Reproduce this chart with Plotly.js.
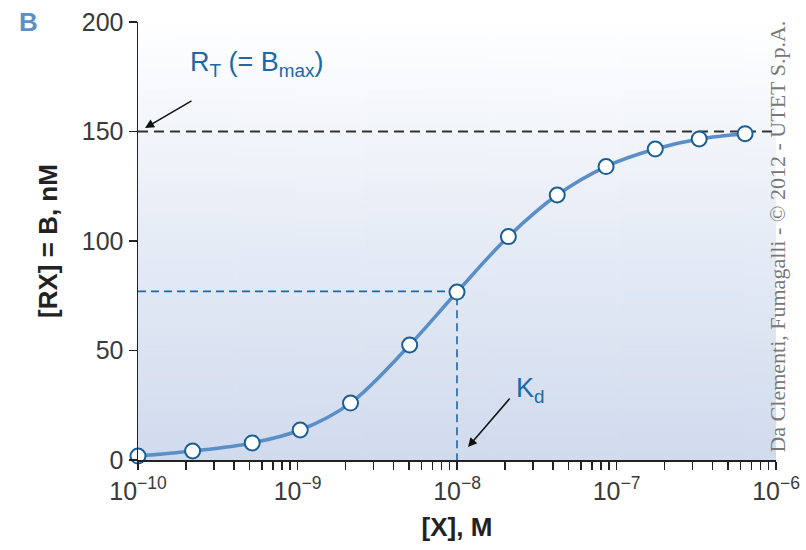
<!DOCTYPE html>
<html>
<head>
<meta charset="utf-8">
<script src="https://cdn.plot.ly/plotly-3.0.1.min.js"></script>
<style>html,body{margin:0;padding:0;background:#fff;}#chart{width:806px;height:550px;}</style>
</head>
<body>
<div id="chart"></div>
<script>
// Data
const xConc = [1e-10, 2.2e-10, 5.2e-10, 1.04e-9, 2.15e-9, 5.05e-9, 1e-8, 2.1e-8, 4.25e-8, 8.6e-8, 1.75e-7, 3.3e-7, 6.4e-7];
const bound = [1.8, 4.1, 7.8, 13.7, 26, 52.5, 76.7, 102, 121, 134, 142, 146.6, 149];
const Bmax = 150;
const Kd = 1e-8;
const halfB = 77;
const xTickVals = [1e-10, 1e-9, 1e-8, 1e-7, 1e-6];
const xTickText = ['10<sup>\u221210</sup>', '10<sup>\u22129</sup>', '10<sup>\u22128</sup>', '10<sup>\u22127</sup>', '10<sup>\u22126</sup>'];
const yTickVals = [0, 50, 100, 150, 200];

// minor tick positions (2..9 per decade)
const minorVals = [];
for (let e = -10; e < -6; e++) for (let m = 2; m <= 9; m++) minorVals.push(m * Math.pow(10, e));

// gradient background image
const cv = document.createElement('canvas');
cv.width = 10; cv.height = 200;
const cx = cv.getContext('2d');
const g = cx.createLinearGradient(0, 0, 0, 200);
g.addColorStop(0, '#ffffff');
g.addColorStop(0.5, '#e6ecf6');
g.addColorStop(1, '#d1dbee');
cx.fillStyle = g; cx.fillRect(0, 0, 10, 200);
const bgURL = cv.toDataURL();

const blue = '#1c68a8';
const sans = 'Liberation Sans, Arial, sans-serif';
const traces = [
  {x: [xTickVals[0], xTickVals[4]], y: [Bmax, Bmax], mode: 'lines', line: {color: '#333', width: 2, dash: '10px,6px'}, hoverinfo: 'skip', cliponaxis: false},
  {x: [xTickVals[0], Kd, Kd], y: [halfB, halfB, 0], mode: 'lines', line: {color: blue, width: 1.6, dash: '8px,5px'}, hoverinfo: 'skip'},
  {x: xConc, y: bound, mode: 'lines+markers', line: {color: '#5a8ec6', width: 3.5, shape: 'spline', smoothing: 1},
   marker: {size: 15, color: '#ffffff', line: {color: '#1a5e96', width: 2}}, cliponaxis: false}
];

const fontTick = {family: sans, size: 25, color: '#3a3a3a'};
const layout = {
  width: 806, height: 550,
  margin: {l: 138, r: 30, t: 22, b: 90},
  paper_bgcolor: '#ffffff', plot_bgcolor: 'rgba(0,0,0,0)',
  showlegend: false,
  images: [{source: bgURL, xref: 'paper', yref: 'paper', x: 0, y: 1, sizex: 1, sizey: 1, sizing: 'stretch', layer: 'below', xanchor: 'left', yanchor: 'top'}],
  xaxis: {
    type: 'log', range: [-10, -6], tickvals: xTickVals, ticktext: xTickText,
    ticks: 'outside', ticklen: 8, tickwidth: 1.5, tickcolor: '#222',
    showline: true, linecolor: '#222', linewidth: 1.5, showgrid: false, zeroline: false,
    tickfont: fontTick,
    minor: {tickvals: minorVals, ticks: 'outside', ticklen: 8, tickwidth: 1.5, tickcolor: '#222', showgrid: false},
    title: {text: '[X], M', font: {family: sans, size: 26, color: '#222', weight: 'bold'}, standoff: 14}
  },
  yaxis: {
    range: [0, 200], tickvals: yTickVals,
    ticks: 'outside', ticklen: 8, tickwidth: 1.5, tickcolor: '#222',
    showline: true, linecolor: '#222', linewidth: 1.5, showgrid: false, zeroline: false,
    tickfont: fontTick,
    title: {text: '[RX] = B, nM', font: {family: sans, size: 26, color: '#222', weight: 'bold'}, standoff: 16}
  },
  annotations: [
    {xref: 'paper', yref: 'paper', x: -0.19, y: 1.0, xanchor: 'left', yanchor: 'middle', text: '<b>B</b>', showarrow: false,
     font: {family: sans, size: 26, color: '#5d8fc9'}},
    {xref: 'x', yref: 'y', x: -9.685, y: 181, text: 'R<sub>T</sub> (= B<sub>max</sub>)', showarrow: false, xanchor: 'left',
     font: {family: sans, size: 27, color: blue}},
    {xref: 'x', yref: 'y', x: -9.956, y: 151.6, axref: 'pixel', ayref: 'pixel', ax: 48, ay: -28, text: '', showarrow: true,
     arrowhead: 2, arrowsize: 1.2, arrowwidth: 1.5, arrowcolor: '#111'},
    {xref: 'x', yref: 'y', x: -7.54, y: 32, text: 'K<sub>d</sub>', showarrow: false, xanchor: 'center',
     font: {family: sans, size: 27, color: blue}},
    {xref: 'x', yref: 'y', x: -7.931, y: 5.9, axref: 'pixel', ayref: 'pixel', ax: 43, ay: -50, text: '', showarrow: true,
     arrowhead: 2, arrowsize: 1.2, arrowwidth: 1.5, arrowcolor: '#111'},
    {xref: 'paper', yref: 'paper', x: 1.003, y: 0.51, text: 'Da Clementi, Fumagalli - \u00a9 2012 - UTET S.p.A.', showarrow: false,
     textangle: -90, xanchor: 'center', yanchor: 'middle',
     font: {family: 'Liberation Serif, Times New Roman, serif', size: 22, color: '#777'}}
  ]
};

Plotly.newPlot('chart', traces, layout, {displayModeBar: false, staticPlot: true});
</script>
</body>
</html>
